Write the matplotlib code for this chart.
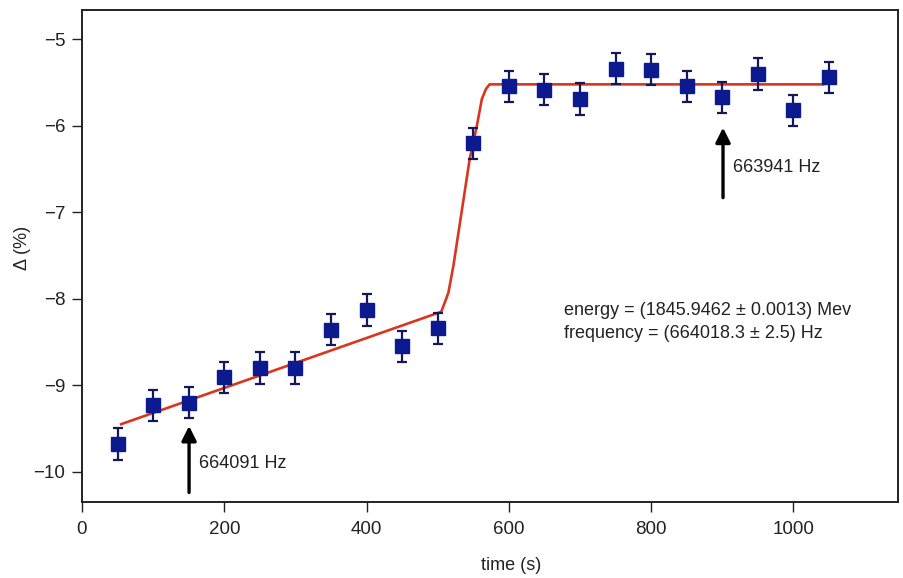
import matplotlib.pyplot as plt

plt.rcParams['font.family'] = ['Liberation Sans', 'DejaVu Sans']

# measured points
time_s = [50, 100, 150, 200, 250, 300, 350, 400, 450, 500, 550,
          600, 650, 700, 750, 800, 850, 900, 950, 1000, 1050]
delta = [-9.68, -9.23, -9.20, -8.91, -8.80, -8.80, -8.36, -8.13, -8.55, -8.34, -6.20,
         -5.54, -5.58, -5.69, -5.34, -5.35, -5.54, -5.67, -5.40, -5.82, -5.44]
delta_err = [0.18] * len(time_s)

# fit curve
fit_t = [55, 505, 515, 522, 545, 555, 562, 568, 573, 1042]
fit_y = [-9.45, -8.15, -7.93, -7.62, -6.38, -6.00, -5.69, -5.57, -5.52, -5.52]

fig = plt.figure(figsize=(9.04, 5.78), dpi=100)
ax = fig.add_axes([0.0907, 0.1315, 0.9027, 0.8512])

ax.plot(fit_t, fit_y, color='#d8361f', lw=1.9, zorder=2)
ax.errorbar(time_s, delta, yerr=delta_err, fmt='s', color='#0b1a8f',
            ecolor='#15175a', elinewidth=1.6, capsize=3.6, capthick=1.6,
            markersize=9.5, zorder=3)

# arrows marking the scan frequencies
ax.annotate('', xy=(150.5, -9.47), xytext=(150.5, -10.24),
            arrowprops=dict(arrowstyle='-|>', color='black', lw=2.4,
                            mutation_scale=22, shrinkA=0, shrinkB=0))
ax.text(165, -9.90, '664091 Hz', fontsize=13, va='center', ha='left', color='#222222')
ax.annotate('', xy=(901, -6.02), xytext=(901, -6.83),
            arrowprops=dict(arrowstyle='-|>', color='black', lw=2.4,
                            mutation_scale=22, shrinkA=0, shrinkB=0))
ax.text(915, -6.48, '663941 Hz', fontsize=13, va='center', ha='left', color='#222222')

ax.text(677, -8.13, 'energy = (1845.9462 ± 0.0013) Mev', fontsize=13,
        va='center', ha='left', color='#222222')
ax.text(677, -8.40, 'frequency = (664018.3 ± 2.5) Hz', fontsize=13,
        va='center', ha='left', color='#222222')

ax.set_xlim(0, 1147)
ax.set_ylim(-10.35, -4.66)
ax.set_xticks([0, 200, 400, 600, 800, 1000])
ax.set_yticks([-10, -9, -8, -7, -6, -5])

for sp in ax.spines.values():
    sp.set_linewidth(1.4)
    sp.set_color('#222222')
ax.tick_params(axis='both', direction='out', length=7, width=1.0,
               colors='#222222', labelsize=13.5)
ax.tick_params(axis='x', pad=7)
ax.tick_params(axis='y', pad=5)

ax.set_xlabel('time (s)', fontsize=13, color='#222222')
ax.xaxis.set_label_coords(0.526, -0.112)
ax.set_ylabel('Δ (%)', fontsize=13, color='#222222')
ax.yaxis.set_label_coords(-0.062, 0.516)

plt.savefig('out.png', dpi=100)
